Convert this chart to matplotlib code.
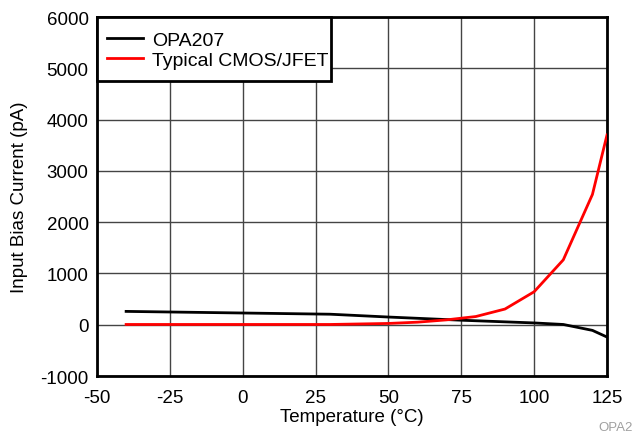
import matplotlib
matplotlib.use("Agg")
import matplotlib.pyplot as plt
from matplotlib.patches import Rectangle

plt.rcParams["font.family"] = ["Liberation Sans", "DejaVu Sans"]
plt.rcParams["axes.unicode_minus"] = False

# OPA207 input bias current vs temperature
opa_temp = [-40, 30, 50, 75, 100, 110, 120, 125]
opa_bias = [260, 205, 150, 88, 35, 5, -110, -240]

# Typical CMOS/JFET
cmos_temp = [-40, 30, 50, 60, 70, 80, 90, 100, 110, 120, 125]
cmos_bias = [5, 5, 25, 50, 95, 160, 306, 643, 1265, 2540, 3700]

x_ticks = [-50, -25, 0, 25, 50, 75, 100, 125]
y_ticks = [-1000, 0, 1000, 2000, 3000, 4000, 5000, 6000]

fig = plt.figure(figsize=(6.36, 4.35), dpi=100)
ax = fig.add_axes([0.1525, 0.1333, 0.8019, 0.8253])

ax.plot(opa_temp, opa_bias, color="black", lw=2, label="OPA207", zorder=3)
ax.plot(cmos_temp, cmos_bias, color="#ff0000", lw=2, label="Typical CMOS/JFET", zorder=3)

ax.set_xlim(-50, 125)
ax.set_ylim(-1000, 6000)
ax.set_xticks(x_ticks)
ax.set_yticks(y_ticks)
ax.tick_params(length=0, labelsize=13.5)
ax.tick_params(axis="x", pad=9)
ax.tick_params(axis="y", pad=6)
ax.grid(True, color="#444444", lw=1)
for s in ax.spines.values():
    s.set_linewidth(2)

ax.set_xlabel("Temperature (°C)", fontsize=13.5, labelpad=2)
ax.set_ylabel("Input Bias Current (pA)", fontsize=13.5, labelpad=9)

# legend box drawn separately so its padding can match the original
box = Rectangle((0.1525, 0.8115), 0.3679, 0.1471, transform=fig.transFigure,
                facecolor="white", edgecolor="black", lw=2, clip_on=False, zorder=4)
ax.add_patch(box)
leg = ax.legend(loc="center left", bbox_to_anchor=(0.1682, 0.8828), bbox_transform=fig.transFigure,
                fontsize=14, frameon=False, borderaxespad=0, borderpad=0,
                handlelength=1.85, labelspacing=0.12, handletextpad=0.45)
leg.set_zorder(5)

fig.text(598 / 636, 1 - 428 / 435, "OPA2", color="#a0a0a0", fontsize=9.5, va="center", ha="left")

fig.savefig("out.png", dpi=100)
